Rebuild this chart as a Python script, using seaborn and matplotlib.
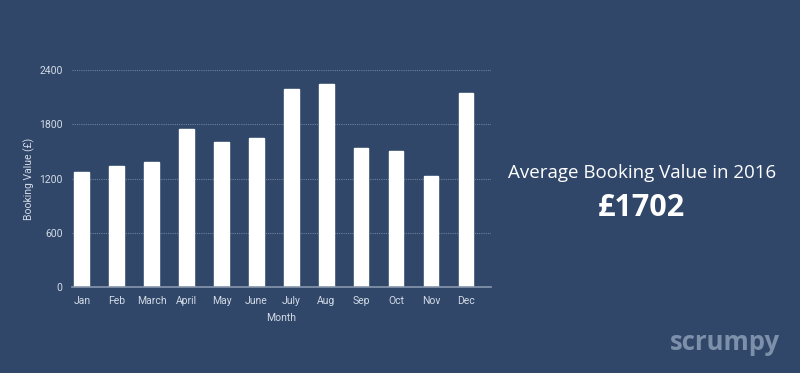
"""
Average booking value per month, 2016 - bar chart
"""

import pandas as pd
import matplotlib
matplotlib.use("Agg")
import matplotlib.pyplot as plt
import seaborn as sns

# Data
months = ["Jan", "Feb", "March", "April", "May", "June",
          "July", "Aug", "Sep", "Oct", "Nov", "Dec"]
booking_value = [1270, 1340, 1380, 1745, 1601, 1652,
                 2190, 2245, 1538, 1505, 1226, 2143]
y_ticks = [0, 600, 1200, 1800, 2400]
headline = "Average Booking Value in 2016"
average_text = "£1702"

# Style
BG       = "#30476a"
TICK_CLR = "#d3dbe5"
GRID_CLR = "#6f819b"
AXIS_CLR = "#8797ad"
LOGO_CLR = "#7d90aa"

sns.set_style("dark")
plt.rcParams["font.family"] = ["Roboto", "DejaVu Sans"]

df = pd.DataFrame({"Month": months, "Value": booking_value})

fig = plt.figure(figsize=(8, 3.73), dpi=100, facecolor=BG)
ax = fig.add_axes([0.0896, 0.2298, 0.5242, 0.5825])
ax.set_facecolor(BG)

sns.barplot(data=df, x="Month", y="Value", color="white",
            width=0.42, saturation=1, ax=ax, zorder=3)

ax.set_xlim(-0.29, 11.72)
ax.set_ylim(0, 2400)
ax.set_yticks(y_ticks)
ax.yaxis.grid(True, color=GRID_CLR, linestyle=(0, (1, 1)), linewidth=0.8, zorder=0)
ax.xaxis.grid(False)

for side in ["top", "right", "left"]:
    ax.spines[side].set_visible(False)
ax.spines["bottom"].set_color(AXIS_CLR)
ax.spines["bottom"].set_linewidth(1.2)
ax.spines["bottom"].set_zorder(4)

ax.tick_params(axis="both", length=0, colors=TICK_CLR, labelsize=7.5)
ax.tick_params(axis="x", pad=6)
ax.tick_params(axis="y", pad=6.5)

ax.set_xlabel("Month", color=TICK_CLR, fontsize=7.5, labelpad=5)
ax.set_ylabel("Booking Value (£)", color=TICK_CLR, fontsize=7.5, labelpad=3)

# Headline figure on the right
fig.text(0.803, 1 - 172.5 / 373, headline, color="white", fontsize=13.5,
         ha="center", va="center", family=["Open Sans", "DejaVu Sans"])
fig.text(0.802, 1 - 208 / 373, average_text, color="white", fontsize=22,
         fontweight="bold", ha="center", va="center",
         family=["Open Sans", "DejaVu Sans"])

# Logo
fig.text(0.9063, 1 - 343 / 373, "scrumpy", color=LOGO_CLR, fontsize=18.5,
         fontweight="bold", ha="center", va="center",
         family=["Open Sans", "DejaVu Sans"])

fig.savefig("out.png", dpi=100, facecolor=BG)
